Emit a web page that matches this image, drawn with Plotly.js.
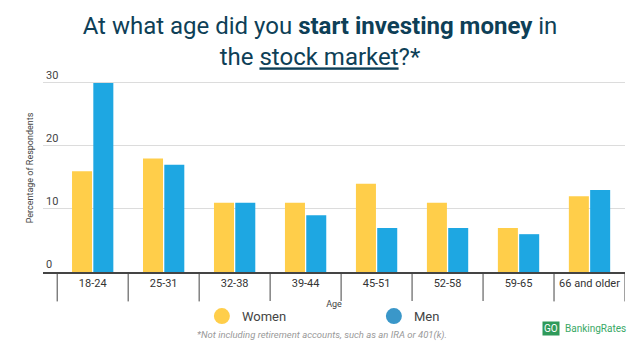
<!DOCTYPE html>
<html>
<head>
<meta charset="utf-8">
<script src="https://cdn.plot.ly/plotly-3.0.1.min.js"></script>
<style>html,body{margin:0;padding:0;background:#fff}#chart{width:640px;height:360px}</style>
</head>
<body>
<div id="chart"></div>
<script>
var categories = ["18-24", "25-31", "32-38", "39-44", "45-51", "52-58", "59-65", "66 and older"];
var women = [16, 18, 11, 11, 14, 11, 7, 12];
var men = [30, 17, 11, 9, 7, 7, 6, 13];
var seriesNames = ["Women", "Men"];
var yTicks = [0, 10, 20, 30];

var WOMEN_COLOR = "#ffce4a";
var MEN_COLOR = "#1ea7e2";

var traces = [
  {type: "bar", x: categories, y: women, name: seriesNames[0], marker: {color: WOMEN_COLOR}, showlegend: false, hoverinfo: "skip"},
  {type: "bar", x: categories, y: men, name: seriesNames[1], marker: {color: MEN_COLOR}, showlegend: false, hoverinfo: "skip"},
  {type: "scatter", mode: "markers", x: [null], y: [null], name: seriesNames[0], marker: {color: WOMEN_COLOR, size: 20, symbol: "circle"}},
  {type: "scatter", mode: "markers", x: [null], y: [null], name: seriesNames[1], marker: {color: "#3a97c9", size: 20, symbol: "circle"}}
];

var shapes = [];
for (var i = 0; i <= categories.length; i++) {
  shapes.push({type: "line", xref: "x", yref: "paper", x0: i - 0.5, x1: i - 0.5, y0: 0, y1: -0.1414, line: {color: "#444", width: 1}});
}

var layout = {
  width: 640, height: 360,
  margin: {l: 43, r: 15, t: 64, b: 88},
  paper_bgcolor: "#fff", plot_bgcolor: "#fff",
  font: {family: "Roboto, sans-serif", color: "#444"},
  title: {
    text: "At what age did you <b>start investing money</b> in<br>the <span style=\"text-decoration:underline\">stock market</span>?*",
    font: {family: "Roboto, sans-serif", size: 24, color: "#0e3f57"},
    x: 0.5, xanchor: "center", yref: "container", y: 0.905, yanchor: "middle"
  },
  barmode: "group",
  bargap: 0.4,
  bargroupgap: 0.06,
  xaxis: {
    type: "category",
    range: [-0.7, 7.5],
    showline: true, linecolor: "#444", linewidth: 2,
    ticks: "", showgrid: false,
    tickfont: {size: 11, color: "#333"},
    title: {text: "Age", font: {size: 9, color: "#444"}, standoff: 11},
    fixedrange: true
  },
  yaxis: {
    range: [0, 33],
    tickvals: yTicks,
    ticktext: yTicks.map(String),
    ticklabelposition: "inside top",
    tickfont: {size: 11, color: "#444"},
    showgrid: true, gridcolor: "#dcdcdc", gridwidth: 1,
    zeroline: false, showline: false,
    title: {text: "Percentage of Respondents", font: {size: 9, color: "#444"}, standoff: 10},
    fixedrange: true
  },
  showlegend: true,
  legend: {
    orientation: "h", x: 0.273, xanchor: "left", y: -0.14, yanchor: "top",
    font: {size: 13, color: "#444"}, entrywidth: 127, itemwidth: 30
  },
  shapes: shapes,
  annotations: [
    {text: "<i>*Not including retirement accounts, such as an IRA or 401(k).</i>", xref: "paper", yref: "paper", x: 0.48, y: -0.305, xanchor: "center", yanchor: "middle", showarrow: false, font: {size: 9.5, color: "#999"}},
    {text: "GO", xref: "paper", yref: "paper", x: 0.858, y: -0.27, xanchor: "left", yanchor: "middle", showarrow: false, font: {size: 10, color: "#fff"}, bgcolor: "#2f9a5a", borderpad: 1},
    {text: "BankingRates", xref: "paper", yref: "paper", x: 0.893, y: -0.27, xanchor: "left", yanchor: "middle", showarrow: false, font: {size: 10, color: "#3aa866"}}
  ]
};

Plotly.newPlot("chart", traces, layout, {displayModeBar: false, staticPlot: true});
</script>
</body>
</html>
